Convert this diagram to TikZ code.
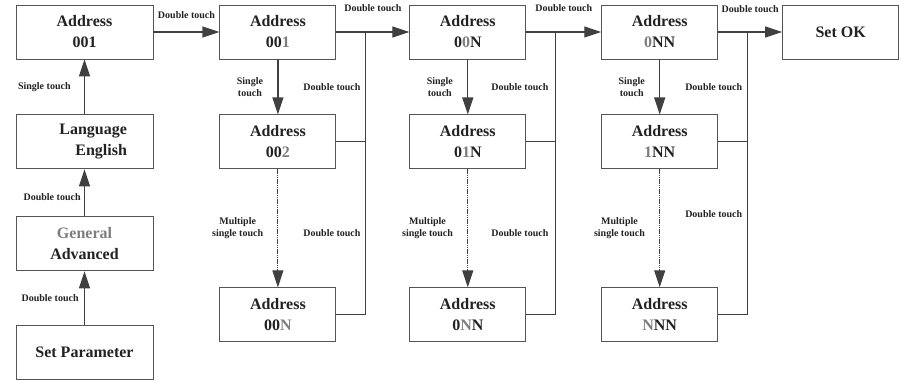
\documentclass[tikz,border=0pt]{standalone}
\usepackage{fontspec}
\setmainfont{Liberation Serif}
\usepackage{xcolor}
\usepackage{tikz}
\usetikzlibrary{positioning, arrows.meta, calc}
\definecolor{boxline}{RGB}{85, 85, 85}
\definecolor{flowline}{RGB}{64, 64, 64}
\definecolor{textdark}{RGB}{34, 34, 34}
\definecolor{digitgray}{RGB}{125, 125, 125}
\newcommand{\dimdigit}[1]{\textcolor{digitgray}{#1}}

\begin{document}
\begin{tikzpicture}[
  every node/.style={text=textdark},
  menubox/.style={rectangle, draw=boxline, line width=0.9pt, minimum height=54pt, minimum width=116pt, align=center, font=\fontsize{16}{21}\selectfont\bfseries},
  widebox/.style={menubox, minimum width=137pt},
  steplabel/.style={font=\fontsize{10}{12.5}\selectfont\bfseries, align=center},
  arrow/.style={-{Triangle[length=17pt, width=11pt]}, line width=1.2pt, draw=flowline},
  bus/.style={line width=1.2pt, draw=flowline},
  dashdot arrow/.style={arrow, line width=1pt, dash pattern=on 5pt off 1pt on 1pt off 1pt on 1pt off 1pt}
]
  \useasboundingbox (0pt,0pt) rectangle (902pt,-382pt);

  % Left column: entering the menu
  \node[widebox] (addr) at (84.5pt,-32pt) {Address\\001};
  \node[widebox, below=55pt of addr, align=right, text width=85pt, inner xsep=26pt] (lang) {Language\\English};
  \node[widebox, below=47pt of lang] (gen) {\dimdigit{General}\\Advanced};
  \node[widebox, below=54pt of gen] (setp) {Set Parameter};

  % Column 1: last digit
  \node[menubox, right=66pt of addr] (aone) {Address\\00\dimdigit{1}};
  \node[menubox, below=55pt of aone] (atwo) {Address\\00\dimdigit{2}};
  \node[menubox, below=118pt of atwo] (aen) {Address\\00\dimdigit{N}};

  % Column 2: middle digit
  \node[menubox, right=73pt of aone] (bone) {Address\\0\dimdigit{0}N};
  \node[menubox, below=55pt of bone] (btwo) {Address\\0\dimdigit{1}N};
  \node[menubox, below=118pt of btwo] (ben) {Address\\0\dimdigit{N}N};

  % Column 3: first digit
  \node[menubox, right=75pt of bone] (cone) {Address\\\dimdigit{0}NN};
  \node[menubox, below=55pt of cone] (ctwo) {Address\\\dimdigit{1}NN};
  \node[menubox, below=118pt of ctwo] (cen) {Address\\\dimdigit{N}NN};

  \node[menubox, right=64pt of cone] (setok) {Set OK};

  % Bus points
  \coordinate (busa) at ($(aone.east)+(29pt,0)$);
  \coordinate (busb) at ($(bone.east)+(29pt,0)$);
  \coordinate (busc) at ($(cone.east)+(29pt,0)$);

  % Arrows, left column
  \draw[arrow] (setp.north) -- node[steplabel, left=2pt, midway] {Double touch} (gen.south);
  \draw[arrow] (gen.north) -- node[steplabel, left=0pt, pos=0.4] {Double touch} (lang.south);
  \draw[arrow] (lang.north) -- node[steplabel, left=10pt, midway] {Single touch} (addr.south);
  \draw[arrow] (addr.east) -- node[steplabel, above=9pt, midway] {Double touch} (aone.west);

  % Arrows, column 1
  \draw[arrow] (aone.south) -- node[steplabel, left=11pt, midway] {Single\\touch} (atwo.north);
  \draw[dashdot arrow] (atwo.south) -- node[steplabel, left=11pt, midway] {Multiple\\single touch} (aen.north);
  \draw[arrow] (aone.east) -- node[steplabel, above=16pt, midway] {Double touch} (bone.west);
  \draw[bus] (atwo.east) -- (busa |- atwo.east);
  \draw[bus] (aen.east) -- (busa |- aen.east)
    -- node[steplabel, left=1pt, pos=0.47] {Double touch} (busa |- atwo.east)
    -- node[steplabel, left=1pt, midway] {Double touch} (busa);

  % Arrows, column 2
  \draw[arrow] (bone.south) -- node[steplabel, left=11pt, midway] {Single\\touch} (btwo.north);
  \draw[dashdot arrow] (btwo.south) -- node[steplabel, left=11pt, midway] {Multiple\\single touch} (ben.north);
  \draw[arrow] (bone.east) -- node[steplabel, above=16pt, midway] {Double touch} (cone.west);
  \draw[bus] (btwo.east) -- (busb |- btwo.east);
  \draw[bus] (ben.east) -- (busb |- ben.east)
    -- node[steplabel, left=3pt, pos=0.47] {Double touch} (busb |- btwo.east)
    -- node[steplabel, left=3pt, midway] {Double touch} (busb);

  % Arrows, column 3
  \draw[arrow] (cone.south) -- node[steplabel, left=11pt, midway] {Single\\touch} (ctwo.north);
  \draw[dashdot arrow] (ctwo.south) -- node[steplabel, left=11pt, midway] {Multiple\\single touch} (cen.north);
  \draw[arrow] (cone.east) -- node[steplabel, above=15pt, midway] {Double touch} (setok.west);
  \draw[bus] (ctwo.east) -- (busc |- ctwo.east);
  \draw[bus] (cen.east) -- (busc |- cen.east)
    -- node[steplabel, left=1pt, pos=0.58] {Double touch} (busc |- ctwo.east)
    -- node[steplabel, left=1pt, midway] {Double touch} (busc);

\end{tikzpicture}
\end{document}
